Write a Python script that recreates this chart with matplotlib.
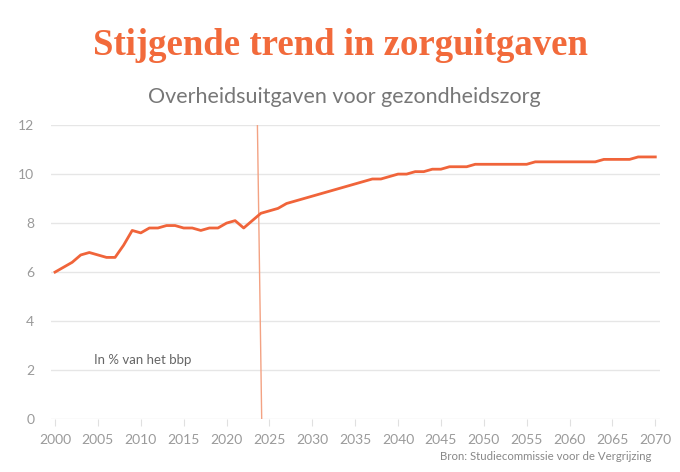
import numpy as np
from matplotlib import pyplot as plt

# jaren en zorguitgaven in % van het bbp
years = list(range(2000, 2071))
values = [6.0, 6.2, 6.4, 6.7, 6.8, 6.7, 6.6, 6.6, 7.1, 7.7,
          7.6, 7.8, 7.8, 7.9, 7.9, 7.8, 7.8, 7.7, 7.8, 7.8,
          8.0, 8.1, 7.8, 8.1, 8.4, 8.5, 8.6, 8.8, 8.9, 9.0,
          9.1, 9.2, 9.3, 9.4, 9.5, 9.6, 9.7, 9.8, 9.8, 9.9,
          10.0, 10.0, 10.1, 10.1, 10.2, 10.2, 10.3, 10.3, 10.3, 10.4,
          10.4, 10.4, 10.4, 10.4, 10.4, 10.4, 10.5, 10.5, 10.5, 10.5,
          10.5, 10.5, 10.5, 10.5, 10.6, 10.6, 10.6, 10.6, 10.7, 10.7,
          10.7]
marker_x = [2023.6, 2024.1]
marker_y = [12, 0]

xticks = list(range(2000, 2071, 5))
yticks = [0, 2, 4, 6, 8, 10, 12]

orange = "#f0643a"
light = "#9a9a9a"

plt.rcParams['font.family'] = ['Lato', 'DejaVu Sans']

fig = plt.figure(figsize=(6.8, 4.72), dpi=100)
ax = fig.add_axes([0.075, 0.112, 0.896, 0.623])

ax.plot(years, values, color=orange, lw=2.0, solid_joinstyle='round', zorder=3)
ax.plot(marker_x, marker_y, color="#f3a283", lw=1.0, zorder=2)

ax.set_xlim(1999.53, 2070.58)
ax.set_ylim(0, 12)
ax.set_xticks(xticks)
ax.set_yticks(yticks)
for s in ax.spines.values():
    s.set_visible(False)
ax.grid(axis='y', color="#e6e6e6", lw=1.0)
ax.set_axisbelow(True)
ax.tick_params(axis='y', length=0, pad=12, labelsize=10, labelcolor=light)
ax.tick_params(axis='x', length=5, width=0.8, color="#e0e0e0", pad=6,
               labelsize=10, labelcolor=light)

ax.text(2004.6, 2.4, "In % van het bbp", fontsize=9.5, color="#666666",
        ha='left', va='center')

fig.text(0.5, 0.8835, "Stijgende trend in zorguitgaven", ha='center', va='baseline',
         fontsize=26.5, fontweight='bold', color="#f26a3b",
         family=['Liberation Serif', 'DejaVu Serif'])
fig.text(0.506, 0.781, "Overheidsuitgaven voor gezondheidszorg", ha='center',
         va='baseline', fontsize=15.5, color="#777777")
fig.text(0.958, 0.032, "Bron: Studiecommissie voor de Vergrijzing", ha='right',
         va='center', fontsize=8.2, color="#888888")

plt.savefig("out.png", dpi=100)
